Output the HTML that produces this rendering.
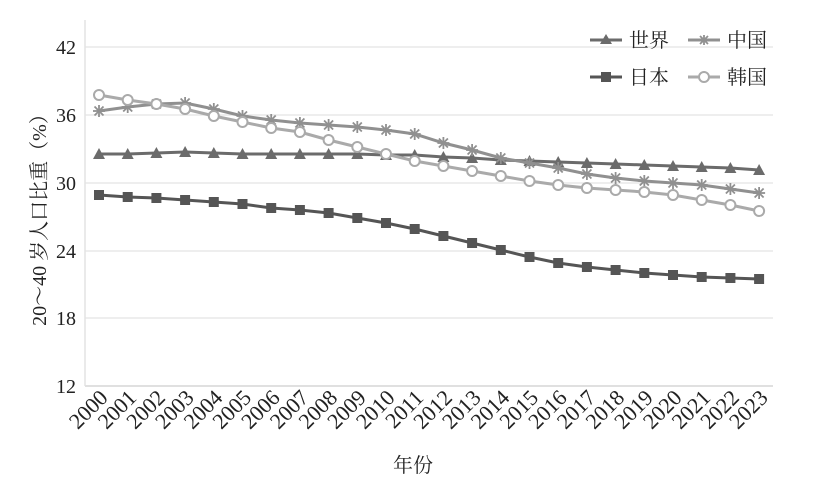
<!DOCTYPE html><html><head><meta charset="utf-8"><style>body{margin:0;background:#fff}svg{display:block}text{font-family:"Liberation Serif","Noto Serif CJK SC",serif;fill:#222}</style></head><body>
<svg width="828" height="489" viewBox="0 0 828 489">
<g stroke="#e3e3e3" stroke-width="1.2">
<line x1="85" x2="773" y1="47" y2="47"/><line x1="85" x2="773" y1="115" y2="115"/><line x1="85" x2="773" y1="183" y2="183"/><line x1="85" x2="773" y1="251" y2="251"/><line x1="85" x2="773" y1="318" y2="318"/>
</g>
<line x1="85" x2="85" y1="20" y2="386" stroke="#e3e3e3" stroke-width="1.5"/>
<line x1="85" x2="773" y1="386" y2="386" stroke="#e0e0e0" stroke-width="2"/>
<g font-size="20" text-anchor="end">
<text x="76" y="54">42</text><text x="76" y="122">36</text><text x="76" y="190">30</text><text x="76" y="258">24</text><text x="76" y="325">18</text><text x="76" y="393">12</text>
</g>
<text transform="translate(46,215) rotate(-90)" font-size="20" text-anchor="middle">20～40 岁人口比重（%）</text>
<text x="413" y="472" font-size="20" text-anchor="middle">年份</text>
<g id="xt" font-size="22" text-anchor="end"></g>
<g id="series"></g>
<g stroke-width="3">
<line x1="590" x2="622" y1="40" y2="40" stroke="#6b6b6b"/><polygon points="600,44 606,34 612,44" fill="#6b6b6b"/>
<line x1="688" x2="720" y1="40" y2="40" stroke="#909090"/>
<line x1="590" x2="622" y1="77" y2="77" stroke="#555"/><rect x="601" y="72" width="10" height="10" fill="#555"/>
<line x1="688" x2="720" y1="77" y2="77" stroke="#aaa"/><circle cx="704" cy="77" r="5" fill="#fff" stroke="#aaa" stroke-width="2"/>
</g>
<g stroke="#909090" stroke-width="1.8"><line x1="699" x2="709" y1="40" y2="40"/><line x1="704" x2="704" y1="35" y2="45"/><line x1="700" x2="708" y1="36" y2="44"/><line x1="700" x2="708" y1="44" y2="36"/></g>
<g font-size="20"><text x="629" y="47">世界</text><text x="727" y="47">中国</text><text x="629" y="84">日本</text><text x="727" y="84">韩国</text></g>
</svg>
<script>
const X=i=>99+i*28.7;
const ns="http://www.w3.org/2000/svg";
const xt=document.getElementById('xt');
for(let i=0;i<24;i++){const t=document.createElementNS(ns,'text');t.setAttribute('transform',`translate(${X(i)+10},${399}) rotate(-45)`);t.textContent=2000+i;xt.appendChild(t);}
const S=[
{c:"#555",m:"sq",d:[195,197,198,200,202,204,208,210,213,218,223,229,236,243,250,257,263,267,270,273,275,277,278,279]},
{c:"#6b6b6b",m:"tri",d:[154,154,153,152,153,154,154,154,154,154,155,155,157,158,160,161,162,163,164,165,166,167,168,170]},
{c:"#909090",m:"star",d:[111,107,104,103,109,116,120,123,125,127,130,134,143,150,158,163,168,174,178,181,183,185,189,193]},
{c:"#aaa",m:"circ",d:[95,100,104,109,116,122,128,132,140,147,154,161,166,171,176,181,185,188,190,192,195,200,205,211]}];
let h='';
for(const s of S){h+=`<polyline fill="none" stroke="${s.c}" stroke-width="3" points="${s.d.map((y,i)=>X(i)+','+y).join(' ')}"/>`;
s.d.forEach((y,i)=>{const x=X(i);
if(s.m=="sq")h+=`<rect x="${x-5}" y="${y-5}" width="10" height="10" fill="${s.c}"/>`;
if(s.m=="tri")h+=`<polygon points="${x-6},${y+5} ${x},${y-6} ${x+6},${y+5}" fill="${s.c}"/>`;
if(s.m=="star")h+=`<g stroke="${s.c}" stroke-width="1.8"><line x1="${x-6}" x2="${x+6}" y1="${y}" y2="${y}"/><line x1="${x}" x2="${x}" y1="${y-6}" y2="${y+6}"/><line x1="${x-4.5}" x2="${x+4.5}" y1="${y-4.5}" y2="${y+4.5}"/><line x1="${x-4.5}" x2="${x+4.5}" y1="${y+4.5}" y2="${y-4.5}"/></g>`;
if(s.m=="circ")h+=`<circle cx="${x}" cy="${y}" r="5" fill="#fff" stroke="${s.c}" stroke-width="2"/>`;});}
document.getElementById('series').innerHTML=h;
</script>
</body></html>
